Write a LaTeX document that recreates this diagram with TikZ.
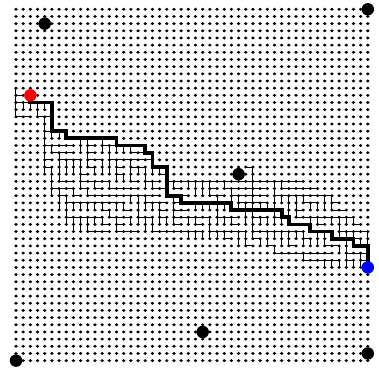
\documentclass[tikz,border=0pt]{standalone}
\begin{document}
\begin{tikzpicture}[x=7.18bp,y=-7.17bp,
  griddot/.style={fill=black},
  treeedge/.style={draw=black,line width=1bp},
  pathline/.style={draw=black,line width=3.8bp,line join=miter},
  bigdot/.style={circle,fill=black,inner sep=0pt,minimum size=12.5bp},
  startdot/.style={circle,fill=red,inner sep=0pt,minimum size=12.5bp},
  goaldot/.style={circle,fill=blue,inner sep=0pt,minimum size=12.5bp}]
\useasboundingbox (-2.228,-1.297) rectangle (50.557,50.865);
\fill[white] (-2.228,-1.297) rectangle (50.557,50.865);
% grid points
\foreach \i in {0,...,49}{
  \foreach \j in {0,...,49}{
    \coordinate (g-\i-\j) at (\i,\j);
    \fill[griddot] (g-\i-\j) ellipse[x radius=1.85bp,y radius=1.55bp];
  }
}
% explored tree edges
\pgfmathsetseed{23}
\foreach \r/\a/\b/\pa/\pb in {11/0/0/99/-1,12/0/3/0/0,13/0/5/0/3,14/0/5/0/5,15/0/5/0/5,
  16/4/5/0/5,17/4/7/4/5,18/4/14/4/7,19/4/18/4/14,20/4/19/4/18,21/4/19/4/19,
  22/4/21/4/19,23/4/21/4/21,24/5/40/4/21,25/5/42/5/40,26/5/44/5/42,27/6/45/5/44,
  28/6/46/6/45,29/7/47/6/46,30/7/48/7/47,31/8/49/7/48,32/24/49/8/49,33/31/49/24/49,
  34/36/49/31/49,35/40/49/36/49,36/43/49/40/49}{
  \pgfmathsetmacro\pv{rnd<0.5 ? 0.8 : 0.3}
  \foreach \c in {\a,...,\b}{
    \pgfmathtruncatemacro\up{and(\c>=\pa,\c<=\pb)}
    \pgfmathtruncatemacro\lf{\c>\a}
    \pgfmathtruncatemacro\coin{rnd<\pv}
    \pgfmathtruncatemacro\rm{\r-1}
    \pgfmathtruncatemacro\cm{\c-1}
    \pgfmathtruncatemacro\dir{\up==1 ? (\lf==1 ? (\coin==1 ? 1 : 2) : 1) : (\lf==1 ? 2 : 0)}
    \ifnum\dir=1 \draw[treeedge] (g-\c-\rm) -- (g-\c-\r); \fi
    \ifnum\dir=2 \draw[treeedge] (g-\cm-\r) -- (g-\c-\r); \fi
  }
}
\draw[treeedge] (g-32-22) -- (g-33-22) -- (g-33-28);
% solution path
\draw[pathline] (g-2-12) -- (g-2-13) -- (g-5-13) -- (g-5-17) -- (g-7-17) -- (g-7-18)
  -- (g-14-18) -- (g-14-19) -- (g-18-19) -- (g-18-20) -- (g-19-20) -- (g-19-22)
  -- (g-21-22) -- (g-21-26) -- (g-23-26) -- (g-23-27) -- (g-30-27) -- (g-30-28)
  -- (g-37-28) -- (g-37-29) -- (g-38-29) -- (g-38-30) -- (g-41-30) -- (g-41-31)
  -- (g-44-31) -- (g-44-32) -- (g-47-32) -- (g-47-33) -- (g-49-33) -- (g-49-36);
% special points
\node[bigdot] (b1) at (g-4-2) {};
\node[bigdot] (b2) at (g-49-0) {};
\node[bigdot] (b3) at (g-0-49) {};
\node[bigdot] (b4) at (g-26-45) {};
\node[bigdot] (b5) at (g-31-23) {};
\node[bigdot] (b6) at (g-49-48) {};
\node[startdot] (start) at (g-2-12) {};
\node[goaldot] (goal) at (g-49-36) {};
\end{tikzpicture}
\end{document}
